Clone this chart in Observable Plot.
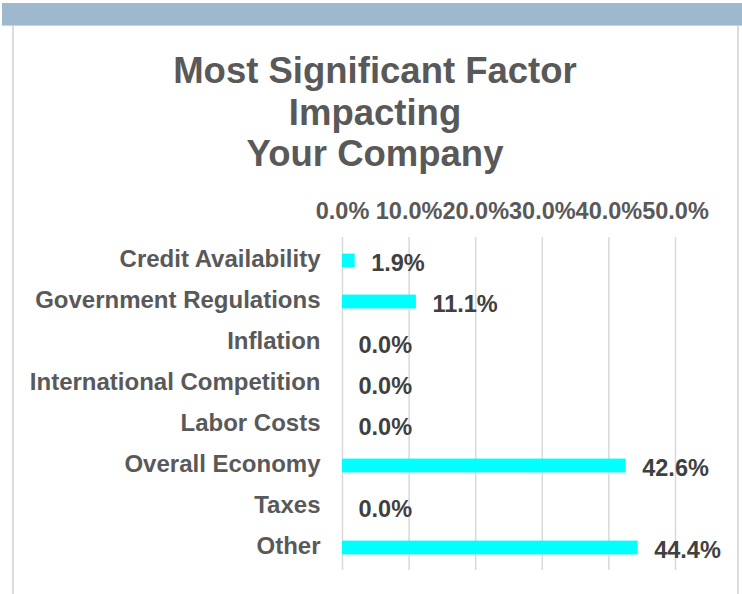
<!DOCTYPE html>
<html>
<head>
<meta charset="utf-8">
<script src="https://cdn.jsdelivr.net/npm/d3@7"></script>
<script src="https://cdn.jsdelivr.net/npm/@observablehq/plot@0.6"></script>
<style>
  html, body { margin: 0; padding: 0; background: #fff; }
  #wrap { position: relative; width: 742px; height: 594px; overflow: hidden; background: #fff; font-family: "Liberation Sans", Arial, sans-serif; }
  #band { position: absolute; left: 2px; top: 3px; width: 740px; height: 22px; background: #9eb9cd; border-bottom: 1px solid #c5d3de; }
  #lb { position: absolute; left: 12px; top: 26px; width: 2px; height: 568px; background: #dcdcdc; }
  #rb { position: absolute; left: 737px; top: 26px; width: 2px; height: 568px; background: #dcdcdc; }
  #title { position: absolute; left: 0; top: 50px; width: 750px; text-align: center; font-size: 36.5px; line-height: 41.5px; font-weight: bold; color: #595959; }
  #chart { position: absolute; left: 0; top: 0; }
</style>
</head>
<body>
<div id="wrap">
  <div id="band"></div>
  <div id="lb"></div>
  <div id="rb"></div>
  <div id="title">Most Significant Factor<br>Impacting<br>Your Company</div>
  <div id="chart"></div>
</div>
<script>
const categories = ["Credit Availability", "Government Regulations", "Inflation", "International Competition", "Labor Costs", "Overall Economy", "Taxes", "Other"];
const values = [1.9, 11.1, 0.0, 0.0, 0.0, 42.6, 0.0, 44.4];
const tickValues = [0, 10, 20, 30, 40, 50];

const data = categories.map((c, i) => ({category: c, value: values[i]}));

const plot = Plot.plot({
  width: 742,
  height: 594,
  marginLeft: 342,
  marginRight: 67,
  marginTop: 237,
  marginBottom: 24,
  style: {fontFamily: "'Liberation Sans', Arial, sans-serif", fontSize: "23.5px", fontWeight: "bold", color: "#595959", background: "transparent", overflow: "visible"},
  x: {domain: [0, 50]},
  y: {domain: categories, padding: 0},
  marks: [
    Plot.gridX(tickValues, {stroke: "#d9d9d9", strokeOpacity: 1, strokeWidth: 1.5}),
    Plot.axisX({anchor: "top", ticks: tickValues, tickFormat: d => d.toFixed(1) + "%", tickSize: 0, tickPadding: 19, label: null, fontSize: 23.5, fontWeight: "bold"}),
    Plot.axisY({tickSize: 0, tickPadding: 22, label: null, fontSize: 24, fontWeight: "bold", dy: -1.5}),
    Plot.barX(data, {x: "value", y: "category", fill: "#00ffff", insetTop: 13.6, insetBottom: 13.6}),
    Plot.text(data, {x: "value", y: "category", text: d => d.value.toFixed(1) + "%", textAnchor: "start", dx: 16, dy: 2, fill: "#404040", fontSize: 23.5, fontWeight: "bold"})
  ]
});
document.getElementById("chart").appendChild(plot);
</script>
</body>
</html>
